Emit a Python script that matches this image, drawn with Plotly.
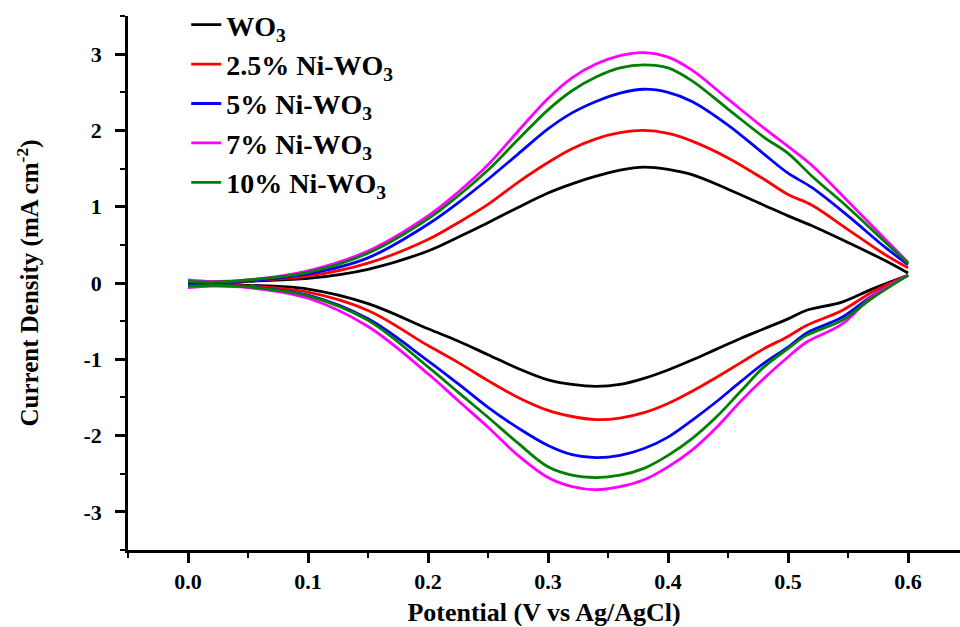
import plotly.graph_objects as go

# ---- data ----
names = ["WO<sub>3</sub>", "2.5% Ni-WO<sub>3</sub>", "5% Ni-WO<sub>3</sub>",
         "7% Ni-WO<sub>3</sub>", "10% Ni-WO<sub>3</sub>"]
colors = ["#000000", "#ff0000", "#0000ff", "#ff00ff", "#008000"]

# anodic (forward) sweep
x_fwd = [0.00, 0.02, 0.05, 0.10, 0.15, 0.20, 0.225, 0.25, 0.275, 0.30, 0.32, 0.34, 0.36, 0.38,
         0.40, 0.42, 0.45, 0.48, 0.50, 0.52, 0.55, 0.58, 0.60]
wo3_fwd  = [-0.03, -0.02, 0.02, 0.06, 0.18, 0.42, 0.60, 0.79, 0.99, 1.18, 1.30, 1.40, 1.48, 1.52,
            1.49, 1.42, 1.23, 1.02, 0.88, 0.75, 0.53, 0.30, 0.13]
ni25_fwd = [-0.02, -0.01, 0.03, 0.09, 0.26, 0.57, 0.79, 1.03, 1.32, 1.58, 1.76, 1.89, 1.97, 2.00,
            1.96, 1.86, 1.64, 1.36, 1.16, 1.02, 0.70, 0.38, 0.20]
ni5_fwd  = [0.00, 0.00, 0.03, 0.12, 0.33, 0.77, 1.05, 1.36, 1.69, 2.02, 2.23, 2.38, 2.49, 2.54,
            2.50, 2.38, 2.07, 1.69, 1.44, 1.25, 0.88, 0.48, 0.24]
ni7_fwd  = [0.04, 0.02, 0.04, 0.16, 0.42, 0.88, 1.19, 1.55, 1.99, 2.42, 2.69, 2.87, 2.98, 3.02,
            2.96, 2.79, 2.41, 2.03, 1.79, 1.54, 1.07, 0.59, 0.27]
ni10_fwd = [0.02, 0.01, 0.04, 0.14, 0.39, 0.84, 1.14, 1.48, 1.88, 2.27, 2.52, 2.70, 2.82, 2.86,
            2.82, 2.65, 2.28, 1.91, 1.70, 1.40, 0.99, 0.55, 0.26]

# cathodic (reverse) sweep
x_rev = [0.60, 0.57, 0.545, 0.515, 0.50, 0.48, 0.46, 0.44, 0.42, 0.40, 0.38, 0.36, 0.34, 0.32,
         0.30, 0.275, 0.25, 0.225, 0.20, 0.15, 0.10, 0.05, 0.02, 0.00]
wo3_rev  = [0.10, -0.08, -0.25, -0.36, -0.47, -0.60, -0.73, -0.87, -1.01, -1.14, -1.25, -1.33,
            -1.355, -1.33, -1.27, -1.12, -0.94, -0.76, -0.60, -0.27, -0.08, -0.03, -0.02, -0.02]
ni25_rev = [0.10, -0.12, -0.36, -0.56, -0.70, -0.86, -1.05, -1.24, -1.42, -1.58, -1.70, -1.77,
            -1.79, -1.75, -1.67, -1.50, -1.28, -1.04, -0.82, -0.36, -0.12, -0.04, -0.02, -0.01]
ni5_rev  = [0.10, -0.17, -0.45, -0.66, -0.84, -1.05, -1.30, -1.56, -1.80, -2.02, -2.17, -2.26,
            -2.29, -2.25, -2.13, -1.90, -1.63, -1.32, -1.02, -0.47, -0.16, -0.05, -0.03, -0.03]
ni7_rev  = [0.10, -0.18, -0.54, -0.78, -0.97, -1.25, -1.56, -1.90, -2.19, -2.41, -2.58, -2.67,
            -2.71, -2.67, -2.55, -2.26, -1.89, -1.54, -1.19, -0.57, -0.20, -0.06, -0.04, -0.06]
ni10_rev = [0.10, -0.20, -0.49, -0.69, -0.86, -1.10, -1.43, -1.76, -2.04, -2.26, -2.43, -2.52,
            -2.55, -2.52, -2.41, -2.10, -1.76, -1.43, -1.10, -0.49, -0.17, -0.05, -0.03, -0.04]

fwd = [wo3_fwd, ni25_fwd, ni5_fwd, ni7_fwd, ni10_fwd]
rev = [wo3_rev, ni25_rev, ni5_rev, ni7_rev, ni10_rev]

x_ticks = [0.0, 0.1, 0.2, 0.3, 0.4, 0.5, 0.6]
x_ticklabels = ["0.0", "0.1", "0.2", "0.3", "0.4", "0.5", "0.6"]
y_ticks = [-3, -2, -1, 0, 1, 2, 3]
y_ticklabels = ["-3", "-2", "-1", "0", "1", "2", "3"]

FONT = "Liberation Serif, Times New Roman, serif"

fig = go.Figure()
for i, (nm, c) in enumerate(zip(names, colors)):
    fig.add_trace(go.Scatter(x=x_fwd, y=fwd[i], mode="lines", name=nm,
                             line=dict(color=c, width=2.8, shape="spline", smoothing=1.0),
                             legendgroup=f"g{i}", showlegend=True))
    fig.add_trace(go.Scatter(x=x_rev, y=rev[i], mode="lines", name=nm,
                             line=dict(color=c, width=2.8, shape="spline", smoothing=1.0),
                             legendgroup=f"g{i}", showlegend=False))

fig.update_layout(
    width=960, height=627,
    margin=dict(l=128, r=0, t=16, b=77),
    plot_bgcolor="white", paper_bgcolor="white",
    font=dict(family=FONT, color="black"),
    showlegend=True,
    legend=dict(x=0.07, y=1.03, xanchor="left", yanchor="top",
                font=dict(family=FONT, size=28, color="black", weight="bold"),
                bgcolor="rgba(0,0,0,0)", tracegroupgap=0, traceorder="normal"),
    xaxis=dict(range=[-0.05, 0.6433], showline=True, linecolor="black", linewidth=2.5,
               showgrid=False, zeroline=False, mirror=False, automargin=False,
               tickmode="array", tickvals=x_ticks, ticktext=x_ticklabels,
               ticks="outside", ticklen=10, tickwidth=2.5, tickcolor="black",
               minor=dict(ticks="outside", ticklen=5, tickwidth=2, tickcolor="black",
                          tickvals=[-0.05, 0.05, 0.15, 0.25, 0.35, 0.45, 0.55]),
               tickfont=dict(family=FONT, size=22, color="black", weight="bold"),
               title=dict(text="Potential (V vs Ag/AgCl)", standoff=12,
                          font=dict(family=FONT, size=26, color="black", weight="bold"))),
    yaxis=dict(range=[-3.5, 3.5], showline=True, linecolor="black", linewidth=2.5,
               showgrid=False, zeroline=False, mirror=False, automargin=False,
               tickmode="array", tickvals=y_ticks, ticktext=y_ticklabels,
               ticks="outside", ticklen=10, tickwidth=2.5, tickcolor="black",
               minor=dict(ticks="outside", ticklen=5, tickwidth=2, tickcolor="black",
                          tickvals=[-3.5, -2.5, -1.5, -0.5, 0.5, 1.5, 2.5, 3.5]),
               tickfont=dict(family=FONT, size=22, color="black", weight="bold"),
               ticklabelstandoff=9,
               title=dict(text="Current Density (mA cm<sup>-2</sup>)", standoff=38,
                          font=dict(family=FONT, size=25, color="black", weight="bold"))),
)

# remove the default 8px page margin so the figure fills the window exactly
fig.write_html("out.html", config={"displayModeBar": False},
               post_script="document.body.style.margin='0px';")
